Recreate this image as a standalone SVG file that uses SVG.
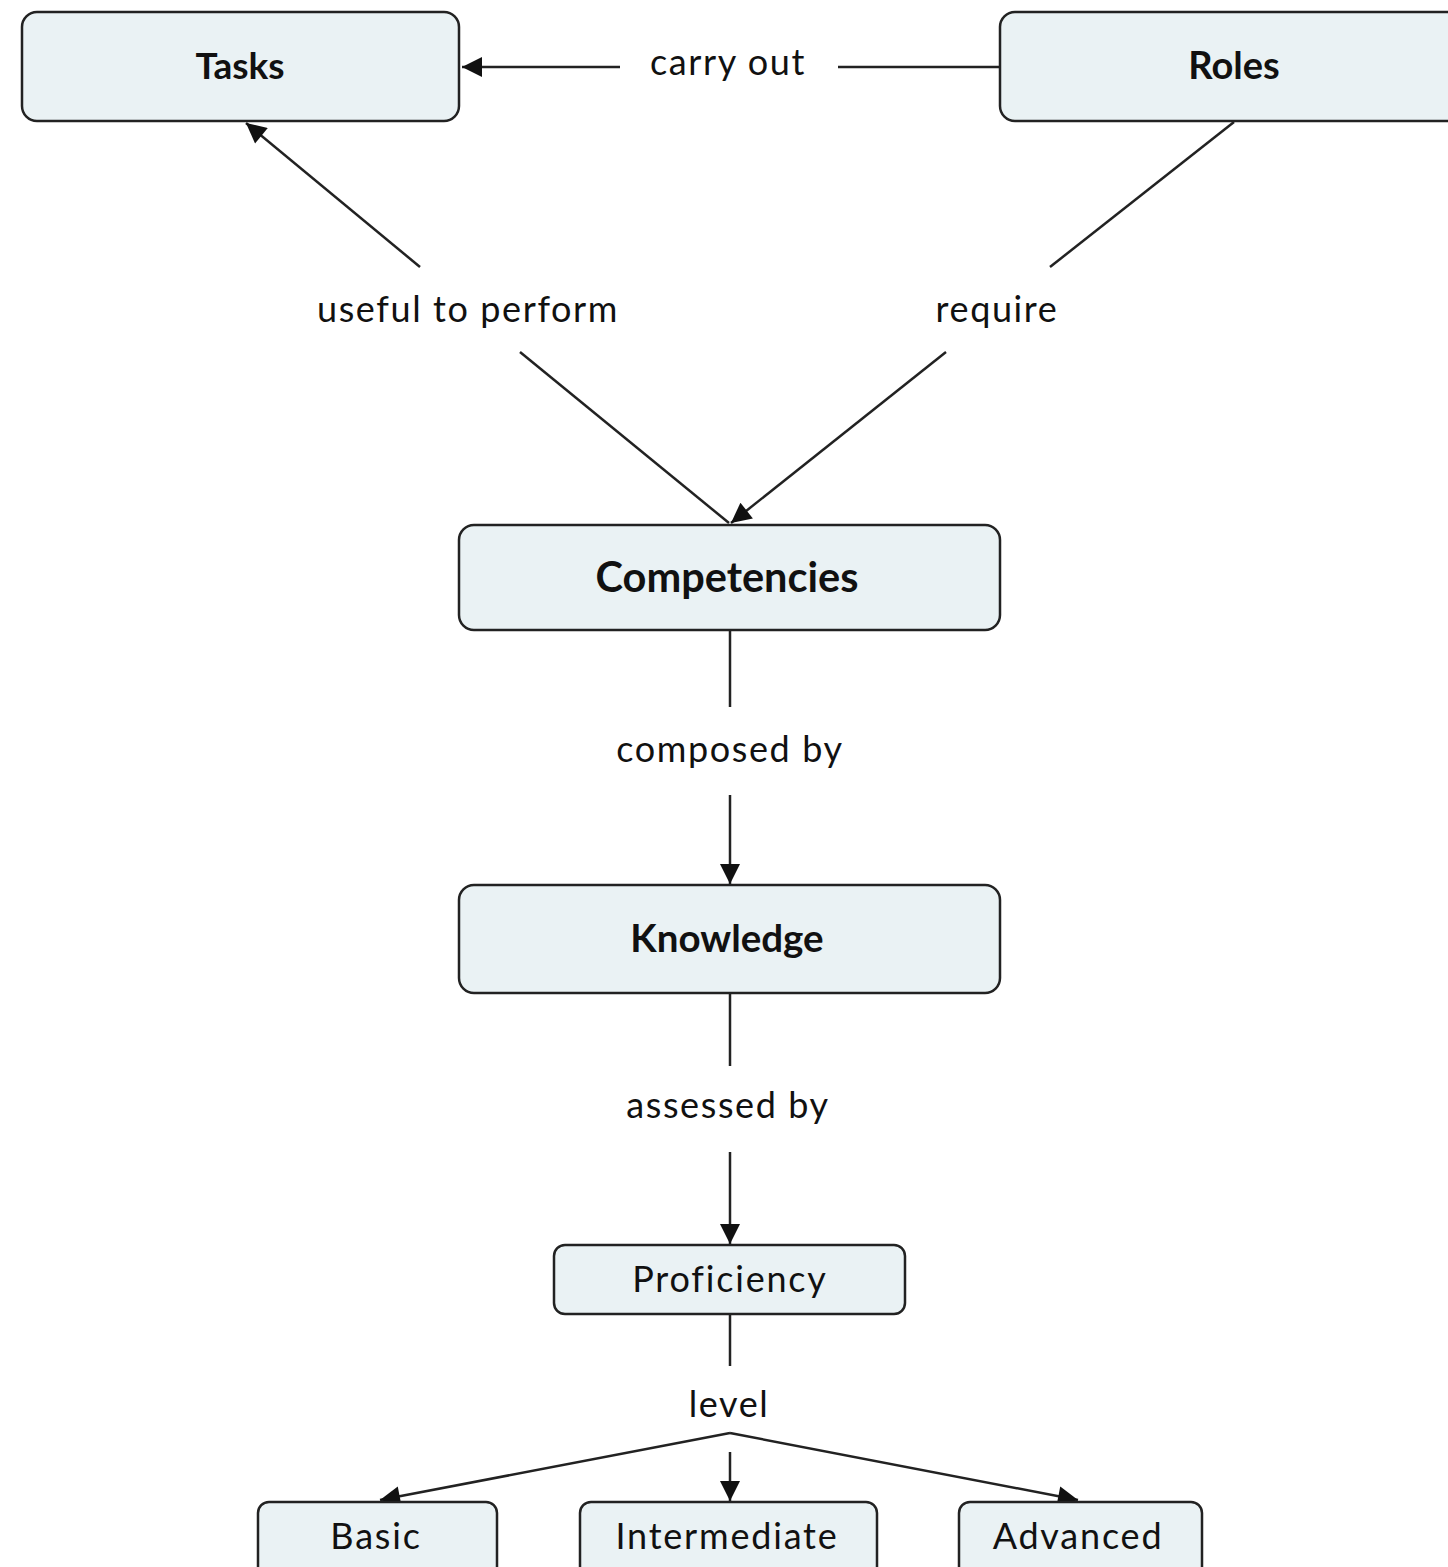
<svg xmlns="http://www.w3.org/2000/svg" width="1448" height="1567" viewBox="0 0 1448 1567">
<style>
.box{fill:#eaf2f4;stroke:#222;stroke-width:2.5}
.t{font-family:Lato,"Open Sans",sans-serif;fill:#111;text-anchor:middle;dominant-baseline:central}
.b{font-weight:bold}
.r{letter-spacing:1.8px}
.lbl{font-family:Lato,"Open Sans",sans-serif;fill:#111;text-anchor:middle;dominant-baseline:central;font-size:36px;letter-spacing:1.6px}
.c{stroke:#222;stroke-width:2.5;fill:none}
</style>
<defs>
<marker id="ah" viewBox="0 0 10 10" refX="10" refY="5" markerWidth="9" markerHeight="8" markerUnits="strokeWidth" orient="auto">
<path d="M0,0 L10,5 L0,10 z" fill="#111"/>
</marker>
</defs>
<rect width="1448" height="1567" fill="#fff"/>
<g id="connectors">
<line class="c" x1="620" y1="67" x2="462" y2="67" marker-end="url(#ah)"/>
<line class="c" x1="838" y1="67" x2="1000" y2="67"/>
<line class="c" x1="420" y1="267" x2="246" y2="123" marker-end="url(#ah)"/>
<line class="c" x1="520" y1="352" x2="729" y2="523"/>
<line class="c" x1="1234" y1="122" x2="1050" y2="267"/>
<line class="c" x1="946" y1="352" x2="731" y2="523" marker-end="url(#ah)"/>
<line class="c" x1="730" y1="631" x2="730" y2="707"/>
<line class="c" x1="730" y1="795" x2="730" y2="884" marker-end="url(#ah)"/>
<line class="c" x1="730" y1="994" x2="730" y2="1066"/>
<line class="c" x1="730" y1="1152" x2="730" y2="1244" marker-end="url(#ah)"/>
<line class="c" x1="730" y1="1315" x2="730" y2="1366"/>
<line class="c" x1="730" y1="1433" x2="380" y2="1500" marker-end="url(#ah)"/>
<line class="c" x1="730" y1="1452" x2="730" y2="1501" marker-end="url(#ah)"/>
<line class="c" x1="730" y1="1433" x2="1078" y2="1500" marker-end="url(#ah)"/>
<text class="lbl" x="728" y="61">carry out</text>
<text class="lbl" x="468" y="308">useful to perform</text>
<text class="lbl" x="997" y="308">require</text>
<text class="lbl" x="730" y="748">composed by</text>
<text class="lbl" x="728" y="1104">assessed by</text>
<text class="lbl" x="729" y="1403">level</text>
</g>
<g id="tasks">
<rect class="box" x="22" y="12" width="437" height="109" rx="15"/>
<text class="t b" x="240" y="64" font-size="37">Tasks</text>
</g>
<g id="roles">
<rect class="box" x="1000" y="12" width="470" height="109" rx="15"/>
<text class="t b" x="1234" y="64" font-size="38">Roles</text>
</g>
<g id="competencies">
<rect class="box" x="459" y="525" width="541" height="105" rx="15"/>
<text class="t b" x="727" y="576" font-size="41.5">Competencies</text>
</g>
<g id="knowledge">
<rect class="box" x="459" y="885" width="541" height="108" rx="15"/>
<text class="t b" x="727" y="937" font-size="38.5">Knowledge</text>
</g>
<g id="proficiency">
<rect class="box" x="554" y="1245" width="351" height="69" rx="11"/>
<text class="t r" x="730" y="1278" font-size="36">Proficiency</text>
</g>
<g id="basic">
<rect class="box" x="258" y="1502" width="239" height="80" rx="11"/>
<text class="t r" x="376" y="1535" font-size="36">Basic</text>
</g>
<g id="intermediate">
<rect class="box" x="580" y="1502" width="297" height="80" rx="11"/>
<text class="t r" x="727" y="1535" font-size="36">Intermediate</text>
</g>
<g id="advanced">
<rect class="box" x="959" y="1502" width="243" height="80" rx="11"/>
<text class="t r" x="1078" y="1535" font-size="36">Advanced</text>
</g>
</svg>
